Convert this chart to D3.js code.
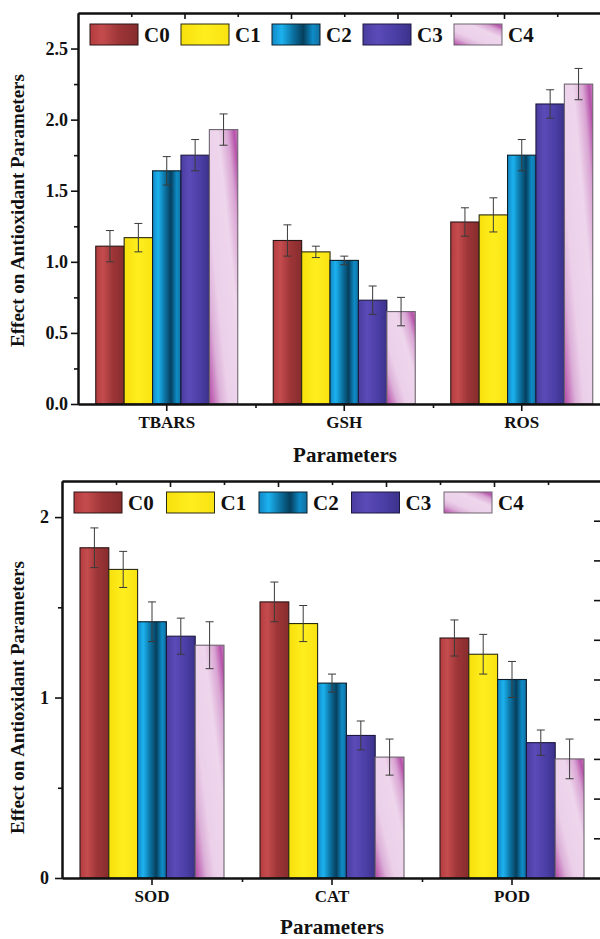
<!DOCTYPE html>
<html>
<head>
<meta charset="utf-8">
<script src="https://cdn.jsdelivr.net/npm/d3@7"></script>
<style>
  body { margin: 0; background: #fff; }
  svg text { font-family: "Liberation Serif", "Times New Roman", serif; font-weight: bold; fill: #111; }
</style>
</head>
<body>
<svg id="chart" width="600" height="939"></svg>
<script>
// series + categories
const seriesNames = ['C0', 'C1', 'C2', 'C3', 'C4'];
const topCategories = ['TBARS', 'GSH', 'ROS'];
const bottomCategories = ['SOD', 'CAT', 'POD'];

// values, one row per category, one column per series
const topMeans = [
  [1.11, 1.17, 1.64, 1.75, 1.93],
  [1.15, 1.07, 1.01, 0.73, 0.65],
  [1.28, 1.33, 1.75, 2.11, 2.25]
];
const topErrors = [
  [0.11, 0.10, 0.10, 0.11, 0.11],
  [0.11, 0.04, 0.03, 0.10, 0.10],
  [0.10, 0.12, 0.11, 0.10, 0.11]
];
const bottomMeans = [
  [1.83, 1.71, 1.42, 1.34, 1.29],
  [1.53, 1.41, 1.08, 0.79, 0.67],
  [1.33, 1.24, 1.10, 0.75, 0.66]
];
const bottomErrors = [
  [0.11, 0.10, 0.11, 0.10, 0.13],
  [0.11, 0.10, 0.05, 0.08, 0.10],
  [0.10, 0.11, 0.10, 0.07, 0.11]
];

// tick labels
const topYTicks = [0, 0.5, 1.0, 1.5, 2.0, 2.5];
const topYMinor = [0.25, 0.75, 1.25, 1.75, 2.25];
const bottomYTicks = [0, 1, 2];
const bottomYMinor = [0.5, 1.5];

const yTitle = 'Effect on Antioxidant Parameters';
const xTitle = 'Parameters';

// bar looks (gradient direction + stops, outline)
const barStyles = [
  {dir: [0, 0, 1, 0], stops: [[0, '#b33c3e'], [0.25, '#c54c4e'], [0.6, '#9d3537'], [1, '#872c2e']], stroke: '#2a1414'},
  {dir: [0, 0, 1, 0], stops: [[0, '#f7e00c'], [0.5, '#ffee1e'], [1, '#f9e212']], stroke: '#2a2a10'},
  {dir: [0, 0, 1, 0], stops: [[0, '#1288c6'], [0.2, '#1bb2ef'], [0.45, '#0b6f9e'], [0.65, '#063f5d'], [0.85, '#0e8cc8'], [1, '#136f9f']], stroke: '#0c1e2a'},
  {dir: [0, 0, 1, 0], stops: [[0, '#4a3d9f'], [0.3, '#5a4bb8'], [0.7, '#4a3da4'], [1, '#3b328a']], stroke: '#1c1840'},
  {dir: [0, 1, 1, 0], stops: [[0, '#b446a6'], [0.2, '#dcb0d8'], [0.35, '#ecd0ea'], [0.65, '#eed6ec'], [0.82, '#d9a4d3'], [0.93, '#b653aa'], [1, '#c87cbf']], stroke: '#6e6470'}
];

const svg = d3.select('#chart');
const defs = svg.append('defs');

barStyles.forEach((s, i) => {
  const grad = defs.append('linearGradient')
    .attr('id', 'grad' + i)
    .attr('x1', s.dir[0]).attr('y1', s.dir[1])
    .attr('x2', s.dir[2]).attr('y2', s.dir[3]);
  s.stops.forEach(st => {
    grad.append('stop').attr('offset', st[0]).attr('stop-color', st[1]);
  });
});

function drawPanel(p) {
  const g = svg.append('g');

  const x0 = d3.scaleBand()
    .domain(p.categories)
    .range([p.left, p.left + p.band * p.categories.length]);

  const x1 = d3.scaleBand()
    .domain(seriesNames)
    .range([x0.bandwidth() * 0.1, x0.bandwidth() * 0.9]);

  const y = d3.scaleLinear()
    .domain([0, p.yMax])
    .range([p.bottom, p.top]);

  const rows = p.categories.map((c, i) => ({
    cat: c,
    bars: p.means[i].map((v, j) => ({s: seriesNames[j], j: j, v: v, e: p.errors[i][j]}))
  }));

  const groups = g.selectAll('g.grp').data(rows)
    .join('g')
    .attr('class', 'grp')
    .attr('transform', d => `translate(${x0(d.cat)},0)`);

  groups.selectAll('rect').data(d => d.bars)
    .join('rect')
    .attr('x', d => x1(d.s))
    .attr('y', d => y(d.v))
    .attr('width', x1.bandwidth())
    .attr('height', d => y(0) - y(d.v))
    .attr('fill', d => `url(#grad${d.j})`)
    .attr('stroke', d => barStyles[d.j].stroke)
    .attr('stroke-width', 1.1);

  // error bars
  const eb = groups.selectAll('g.err').data(d => d.bars)
    .join('g')
    .attr('class', 'err')
    .attr('stroke', '#3a3a3a')
    .attr('stroke-width', 1);
  const cx = d => x1(d.s) + x1.bandwidth() / 2;
  eb.append('line')
    .attr('x1', cx).attr('x2', cx)
    .attr('y1', d => y(d.v + d.e)).attr('y2', d => y(d.v - d.e));
  eb.append('line')
    .attr('x1', d => cx(d) - 4).attr('x2', d => cx(d) + 4)
    .attr('y1', d => y(d.v + d.e)).attr('y2', d => y(d.v + d.e));
  eb.append('line')
    .attr('x1', d => cx(d) - 4).attr('x2', d => cx(d) + 4)
    .attr('y1', d => y(d.v - d.e)).attr('y2', d => y(d.v - d.e));

  const styleAxis = (ax, size) => {
    ax.attr('font-family', null).attr('font-size', size);
    ax.select('.domain').attr('stroke-width', 2).attr('stroke', '#111');
    ax.selectAll('.tick line').attr('stroke-width', 1.6).attr('stroke', '#111');
  };

  // top frame line with its own ticks (inward)
  const xTop = d3.scaleLinear().domain([0, 5]).range(x0.range());
  g.append('g')
    .attr('transform', `translate(0,${p.top})`)
    .call(d3.axisTop(xTop).tickValues([0.5, 1.5, 2.5, 3.5, 4.5]).tickSize(-4).tickSizeOuter(0).tickFormat(''))
    .call(ax => styleAxis(ax, 10));
  g.append('g')
    .attr('transform', `translate(0,${p.top})`)
    .call(d3.axisTop(xTop).tickValues([1, 2, 3, 4]).tickSize(-6).tickSizeOuter(0).tickFormat(''))
    .call(ax => styleAxis(ax, 10));

  // right axis (only its inward ticks show, the line sits past the edge)
  if (p.rightTicks) {
    const yR = d3.scaleLinear().domain([0, 10]).range([p.bottom, p.top]);
    g.append('g')
      .attr('transform', `translate(${x0.range()[1]},0)`)
      .call(d3.axisRight(yR).tickValues(p.rightTicks).tickSize(-8).tickSizeOuter(0).tickFormat(''))
      .call(ax => styleAxis(ax, 10));
  }

  // left axis
  g.append('g')
    .attr('transform', `translate(${p.left},0)`)
    .call(d3.axisLeft(y).tickValues(p.yMinor).tickSize(4).tickSizeOuter(0).tickFormat(''))
    .call(ax => styleAxis(ax, 10));
  g.append('g')
    .attr('transform', `translate(${p.left},0)`)
    .call(d3.axisLeft(y).tickValues(p.yTicks).tickSize(7).tickPadding(p.yPad).tickSizeOuter(0).tickFormat(p.fmt))
    .call(ax => styleAxis(ax, 18));

  // bottom axis
  const xLin = d3.scaleLinear().domain(x0.range()).range(x0.range());
  g.append('g')
    .attr('transform', `translate(0,${p.bottom})`)
    .call(d3.axisBottom(xLin).tickValues(p.categories.slice(1).map(c => x0(c))).tickSize(4).tickSizeOuter(0).tickFormat(''))
    .call(ax => styleAxis(ax, 10));
  g.append('g')
    .attr('transform', `translate(0,${p.bottom})`)
    .call(d3.axisBottom(x0).tickSize(7).tickPadding(5).tickSizeOuter(0))
    .call(ax => styleAxis(ax, 17));

  // titles
  g.append('text')
    .attr('x', p.xTitleX).attr('y', p.xTitleY)
    .attr('text-anchor', 'middle')
    .attr('font-size', 21)
    .text(xTitle);
  g.append('text')
    .attr('transform', `translate(${p.yTitleX},${(p.top + p.bottom) / 2 + p.yTitleShift}) rotate(-90)`)
    .attr('text-anchor', 'middle')
    .attr('font-size', 19)
    .text(yTitle);

  // legend
  const lg = g.selectAll('g.leg').data(seriesNames)
    .join('g')
    .attr('class', 'leg')
    .attr('transform', (d, i) => `translate(${p.legX + i * p.legStep},${p.legY})`);
  lg.append('rect')
    .attr('width', 48).attr('height', 21)
    .attr('fill', (d, i) => `url(#grad${i})`)
    .attr('stroke', (d, i) => barStyles[i].stroke)
    .attr('stroke-width', 1);
  lg.append('text')
    .attr('x', 54).attr('y', 18)
    .attr('font-size', 21)
    .text(d => d);
}

drawPanel({
  categories: topCategories, means: topMeans, errors: topErrors,
  left: 78, band: 177.5, top: 13, bottom: 404, yMax: 2.75,
  yTicks: topYTicks, yMinor: topYMinor, fmt: d3.format('.1f'), yPad: 3,
  xTitleX: 345, xTitleY: 462, yTitleX: 24, yTitleShift: 2,
  legX: 90, legStep: 91, legY: 24
});

drawPanel({
  categories: bottomCategories, means: bottomMeans, errors: bottomErrors,
  left: 62, band: 180, top: 481, bottom: 878, yMax: 2.2,
  yTicks: bottomYTicks, yMinor: bottomYMinor, fmt: d3.format('d'), yPad: 6,
  xTitleX: 332, xTitleY: 934, yTitleX: 24, yTitleShift: 18,
  legX: 74, legStep: 92.5, legY: 492,
  rightTicks: [1, 2, 3, 4, 5, 6, 7, 8, 9]
});
</script>
</body>
</html>
